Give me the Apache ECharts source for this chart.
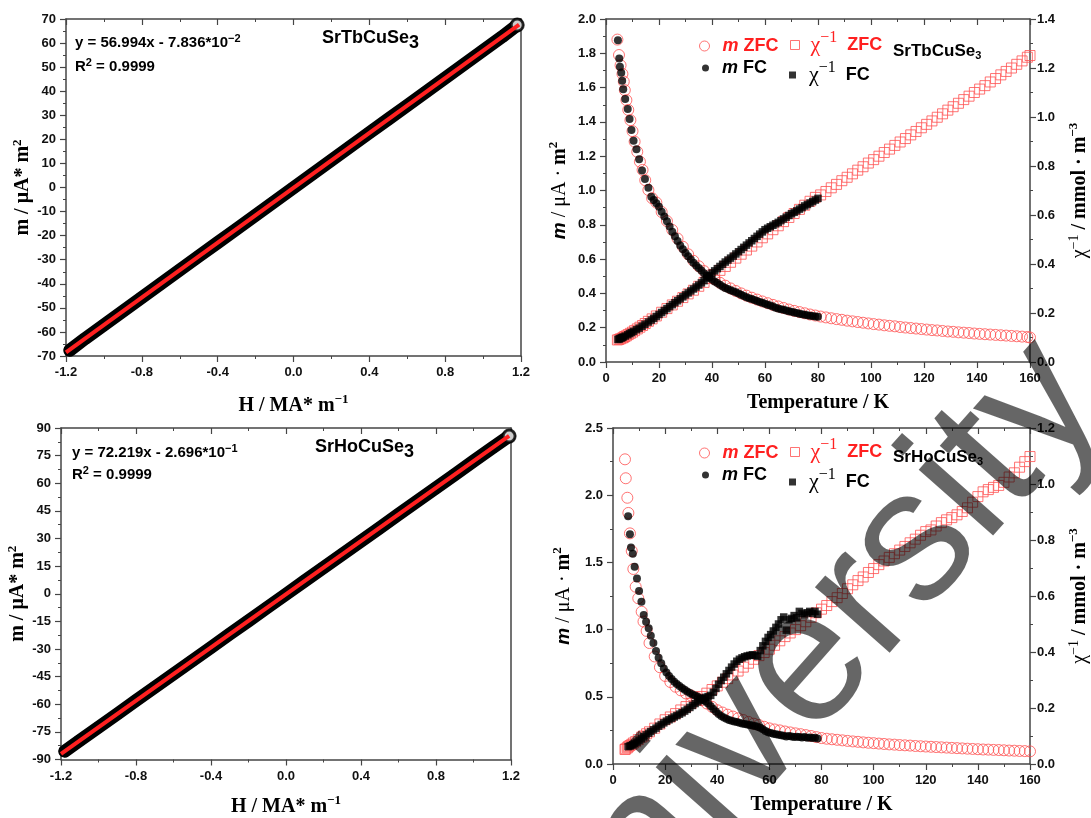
<!DOCTYPE html>
<html>
<head>
<meta charset="utf-8">
<script src="https://cdn.jsdelivr.net/npm/echarts@6/dist/echarts.min.js"></script>
<style>
  html, body { margin: 0; padding: 0; background: #fff; }
  #chart { width: 1091px; height: 818px; }
</style>
</head>
<body>
<div id="chart"></div>
<script>
// ---- M(H) loops (top-left SrTbCuSe3, bottom-left SrHoCuSe3) ----
const tbH = [-1.18, -1.1, -1.0, -0.9, -0.8, -0.7, -0.6, -0.5, -0.4, -0.3, -0.2, -0.1, 0.0, 0.1, 0.2, 0.3, 0.4, 0.5, 0.6, 0.7, 0.8, 0.9, 1.0, 1.1, 1.18];
const tbM = [-67.6, -62.8, -57.1, -51.4, -45.7, -40.0, -34.3, -28.6, -22.9, -17.2, -11.5, -5.8, -0.1, 5.6, 11.3, 17.0, 22.7, 28.4, 34.1, 39.8, 45.5, 51.2, 56.9, 62.6, 67.5];
const tbFitH = [-1.2, 1.19];
const tbFitM = [-68.5, 67.7];

const hoH = [-1.18, -1.1, -1.0, -0.9, -0.8, -0.7, -0.6, -0.5, -0.4, -0.3, -0.2, -0.1, 0.0, 0.1, 0.2, 0.3, 0.4, 0.5, 0.6, 0.7, 0.8, 0.9, 1.0, 1.1, 1.19];
const hoM = [-85.5, -79.7, -72.5, -65.3, -58.0, -50.8, -43.6, -36.4, -29.2, -21.9, -14.7, -7.5, -0.3, 7.0, 14.2, 21.4, 28.6, 35.8, 43.1, 50.3, 57.5, 64.7, 72.0, 79.2, 85.6];
const hoFitH = [-1.2, 1.19];
const hoFitM = [-86.9, 85.7];

// ---- m(T) and 1/chi(T), SrTbCuSe3 ----
const tbZfcT = [4.3, 4.9, 5.5, 6.2, 6.7, 7.1, 7.7, 8.4, 9.2, 10.0, 10.8, 11.8, 12.8, 13.8, 14.8, 16.0, 17.4,
  19, 21, 23, 25, 27, 29, 31, 33, 35, 37, 39,
  41, 43, 45, 47, 49, 51, 53, 55, 57, 59, 61, 63, 65, 67, 69, 71, 73, 75, 77, 79,
  81, 83, 85, 87, 89, 91, 93, 95, 97, 99, 101, 103, 105, 107, 109, 111, 113, 115, 117, 119,
  121, 123, 125, 127, 129, 131, 133, 135, 137, 139, 141, 143, 145, 147, 149, 151, 153, 155, 157, 159, 160];
const tbZfcM = [1.88, 1.79, 1.73, 1.68, 1.635, 1.585, 1.527, 1.47, 1.41, 1.346, 1.285, 1.226, 1.168, 1.12, 1.06, 1.003, 0.955,
  0.93, 0.875, 0.822, 0.77, 0.72, 0.672, 0.628, 0.59, 0.558, 0.53, 0.505,
  0.482, 0.462, 0.445, 0.429, 0.414, 0.4, 0.387, 0.375, 0.364, 0.353, 0.343, 0.333, 0.324, 0.315, 0.306, 0.298, 0.291, 0.284, 0.277, 0.271,
  0.265, 0.26, 0.255, 0.25, 0.246, 0.241, 0.237, 0.233, 0.229, 0.225, 0.221, 0.218, 0.214, 0.211, 0.208, 0.204, 0.201, 0.198, 0.195, 0.192,
  0.189, 0.186, 0.184, 0.181, 0.178, 0.176, 0.173, 0.171, 0.169, 0.166, 0.164, 0.162, 0.16, 0.158, 0.156, 0.154, 0.152, 0.15, 0.148, 0.146, 0.143];
const tbZfcInv = [0.09, 0.092, 0.095, 0.098, 0.101, 0.104, 0.107, 0.112, 0.117, 0.122, 0.128, 0.135, 0.142, 0.149, 0.157, 0.166, 0.176,
  0.188, 0.203, 0.218, 0.233, 0.248, 0.263, 0.278, 0.293, 0.309, 0.325, 0.341,
  0.357, 0.374, 0.39, 0.407, 0.424, 0.44, 0.457, 0.473, 0.49, 0.507, 0.523, 0.54, 0.556, 0.573, 0.59, 0.606, 0.623, 0.64, 0.656, 0.672,
  0.682, 0.696, 0.711, 0.725, 0.74, 0.754, 0.768, 0.783, 0.797, 0.812, 0.826, 0.84, 0.855, 0.869, 0.884, 0.898, 0.912, 0.927, 0.941, 0.956,
  0.97, 0.984, 0.999, 1.013, 1.028, 1.042, 1.056, 1.071, 1.085, 1.1, 1.114, 1.128, 1.143, 1.157, 1.172, 1.186, 1.2, 1.215, 1.229, 1.244, 1.251];

const tbFcT = [4.5, 5.0, 5.25, 5.75, 6.1, 6.5, 7.25, 8.2, 8.9, 9.6, 10.4, 11.5, 12.5, 13.6, 14.7, 16.0, 17.1,
  18, 19, 20, 21, 22, 23, 24, 25, 26, 27, 28, 29, 30, 31, 32, 33, 34, 35, 36, 37, 38, 39, 40, 41, 42, 43, 44, 45, 46, 47,
  48, 49, 50, 51, 52, 53, 54, 55, 56, 57, 58, 59, 60, 61, 62, 63, 64, 65, 66, 67, 68, 69, 70, 71, 72, 73, 74, 75, 76, 77, 78, 79, 80];
const tbFcM = [1.876, 1.769, 1.722, 1.687, 1.64, 1.59, 1.534, 1.475, 1.417, 1.353, 1.29, 1.24, 1.182, 1.116, 1.067, 1.016, 0.964,
  0.945, 0.925, 0.905, 0.876, 0.848, 0.82, 0.79, 0.76, 0.733, 0.706, 0.68, 0.658, 0.636, 0.616, 0.597, 0.579, 0.563, 0.548, 0.533, 0.518,
  0.504, 0.492, 0.481, 0.47, 0.46, 0.45, 0.44, 0.432, 0.425, 0.418, 0.412, 0.406, 0.399, 0.392, 0.385, 0.378, 0.372, 0.367, 0.361, 0.356,
  0.35, 0.345, 0.34, 0.334, 0.329, 0.323, 0.317, 0.312, 0.308, 0.304, 0.3, 0.296, 0.293, 0.289, 0.286, 0.282, 0.279, 0.275, 0.273, 0.27,
  0.268, 0.266, 0.264];
const tbFcInv = [0.092, 0.094, 0.096, 0.098, 0.1, 0.102, 0.106, 0.111, 0.116, 0.12, 0.125, 0.132, 0.138, 0.146, 0.154, 0.163, 0.171,
  0.178, 0.186, 0.194, 0.202, 0.21, 0.218, 0.226, 0.234, 0.242, 0.25, 0.258, 0.266, 0.274, 0.282, 0.29, 0.298, 0.306, 0.314, 0.323, 0.332,
  0.343, 0.353, 0.363, 0.372, 0.381, 0.39, 0.399, 0.408, 0.416, 0.424, 0.432, 0.441, 0.45, 0.459, 0.468, 0.477, 0.486, 0.495, 0.504, 0.513,
  0.522, 0.531, 0.54, 0.546, 0.552, 0.558, 0.564, 0.57, 0.577, 0.584, 0.591, 0.598, 0.605, 0.611, 0.617, 0.624, 0.63, 0.637, 0.643, 0.649,
  0.655, 0.661, 0.668];

// ---- m(T) and 1/chi(T), SrHoCuSe3 ----
const hoZfcT = [4.6, 4.9, 5.5, 5.9, 6.5, 7.2, 7.8, 8.7, 9.7, 11.0, 11.7, 12.9,
  14, 16, 18, 20, 22, 24, 26, 28, 30, 32, 34, 36, 38, 40, 42, 44, 46, 48, 50, 52,
  54, 56, 58, 60, 62, 64, 66, 68, 70, 72, 74, 76, 78, 80, 82, 84, 86, 88, 90, 92,
  94, 96, 98, 100, 102, 104, 106, 108, 110, 112, 114, 116, 118, 120, 122, 124, 126, 128, 130, 132,
  134, 136, 138, 140, 142, 144, 146, 148, 150, 152, 154, 156, 158, 160];
const hoZfcM = [2.267, 2.126, 1.981, 1.868, 1.716, 1.585, 1.451, 1.319, 1.233, 1.133, 1.06, 0.99,
  0.9, 0.8, 0.72, 0.655, 0.61, 0.575, 0.548, 0.525, 0.51, 0.495, 0.475, 0.45, 0.425, 0.4, 0.383, 0.367, 0.353, 0.34, 0.327, 0.313,
  0.3, 0.29, 0.277, 0.265, 0.257, 0.25, 0.242, 0.235, 0.228, 0.222, 0.215, 0.208, 0.2, 0.193, 0.188, 0.184, 0.18, 0.176, 0.172, 0.168,
  0.165, 0.161, 0.158, 0.155, 0.152, 0.149, 0.146, 0.144, 0.141, 0.139, 0.137, 0.134, 0.132, 0.13, 0.128, 0.126, 0.124, 0.122, 0.12, 0.118,
  0.116, 0.114, 0.112, 0.11, 0.108, 0.107, 0.105, 0.104, 0.102, 0.1, 0.099, 0.097, 0.096, 0.094];
const hoZfcInv = [0.052, 0.054, 0.058, 0.062, 0.066, 0.07, 0.075, 0.08, 0.087, 0.096, 0.1, 0.108,
  0.115, 0.128, 0.143, 0.158, 0.168, 0.18, 0.193, 0.205, 0.217, 0.229, 0.241, 0.253, 0.266, 0.279, 0.292, 0.305, 0.318, 0.332, 0.346, 0.36,
  0.374, 0.387, 0.398, 0.41, 0.424, 0.44, 0.455, 0.468, 0.48, 0.494, 0.508, 0.524, 0.54, 0.553, 0.566, 0.58, 0.594, 0.609, 0.626, 0.64,
  0.655, 0.668, 0.684, 0.698, 0.712, 0.725, 0.738, 0.751, 0.764, 0.777, 0.79, 0.803, 0.817, 0.83, 0.836, 0.85, 0.862, 0.872, 0.88, 0.89,
  0.902, 0.915, 0.935, 0.955, 0.972, 0.98, 0.988, 0.995, 1.006, 1.025, 1.04, 1.06, 1.08, 1.098];

const hoFcT = [5.8, 6.5, 6.9, 7.6, 8.3, 9.2, 10.0, 10.9, 11.8, 12.7, 13.7, 14.5,
  15.5, 16.5, 17.5, 18.5, 19.5, 20.5, 21.5, 22.5, 23.5, 24.5, 25.5, 26.5, 27.5, 28.5, 29.5, 30.5, 31.5, 32.5, 33.5, 34.5,
  35.5, 36.5, 37.5, 38.5, 39.5, 40.5, 41.5, 42.5, 43.5, 44.5, 45.5, 46.5, 47.5, 48.5, 49.5, 50.5, 51.5, 52.5, 53.5, 54.5,
  55.5, 56.5, 57.5, 58.5, 59.5, 60.5, 61.5, 62.5, 63.5, 64.5, 65.5, 66.5, 67.5, 68.5, 69.5, 70.5, 71.5, 72.5, 73.5, 74.5,
  75.5, 76.5, 77.5, 78.5];
const hoFcM = [1.843, 1.71, 1.61, 1.565, 1.468, 1.381, 1.287, 1.208, 1.109, 1.059, 1.01, 0.955,
  0.9, 0.84, 0.79, 0.75, 0.71, 0.68, 0.655, 0.632, 0.612, 0.595, 0.58, 0.566, 0.552, 0.54, 0.528, 0.518, 0.51, 0.5, 0.49, 0.478,
  0.465, 0.45, 0.43, 0.41, 0.39, 0.372, 0.358, 0.346, 0.336, 0.328, 0.322, 0.317, 0.312, 0.307, 0.302, 0.298, 0.294, 0.29, 0.287, 0.283,
  0.278, 0.27, 0.258, 0.245, 0.236, 0.23, 0.225, 0.221, 0.217, 0.213, 0.21, 0.205, 0.208, 0.204, 0.2, 0.203, 0.2, 0.198, 0.2, 0.196,
  0.197, 0.194, 0.195, 0.19];
const hoFcInv = [0.062, 0.064, 0.066, 0.069, 0.073, 0.078, 0.084, 0.09, 0.097, 0.104, 0.11, 0.116,
  0.122, 0.128, 0.135, 0.141, 0.147, 0.153, 0.158, 0.163, 0.168, 0.173, 0.178, 0.183, 0.189, 0.195, 0.202, 0.209, 0.216, 0.222, 0.228, 0.234,
  0.238, 0.241, 0.245, 0.256, 0.27, 0.285, 0.298, 0.31, 0.322, 0.334, 0.346, 0.357, 0.367, 0.374, 0.379, 0.383, 0.386, 0.388, 0.39, 0.388,
  0.385, 0.405, 0.422, 0.438, 0.452, 0.462, 0.475, 0.488, 0.5, 0.515, 0.525, 0.478, 0.515, 0.52, 0.53, 0.522, 0.545, 0.538, 0.532, 0.54,
  0.545, 0.538, 0.545, 0.535];

const SANS = '"Liberation Sans", Arial, sans-serif';
const SERIF = '"Liberation Serif", "Times New Roman", serif';
const AX = '#454545';
const RED = '#ff2020';
const ZFC_RED = '#ff5050';

const nameRich = {
  b: { fontFamily: SERIF, fontWeight: 'bold', fontSize: 20, color: '#000' },
  r: { fontFamily: SERIF, fontWeight: 'normal', fontSize: 20, color: '#000' },
  mi: { fontFamily: SANS, fontStyle: 'italic', fontWeight: 'bold', fontSize: 19, color: '#000' },
  sup: { fontFamily: SERIF, fontWeight: 'bold', fontSize: 13, padding: [0, 0, 12, 0], color: '#000' },
  supr: { fontFamily: SERIF, fontWeight: 'normal', fontSize: 14, padding: [0, 0, 12, 0], color: '#000' }
};
const labelStyle = { color: '#111', fontFamily: SANS, fontWeight: 'bold', fontSize: 13 };

function xBottom(g, min, max, step, name, gap, fmt) {
  return {
    type: 'value', gridIndex: g, position: 'bottom', min, max, interval: step,
    axisLine: { show: true, onZero: false, lineStyle: { color: AX, width: 1.5 } },
    axisTick: { show: true, length: 6, lineStyle: { color: AX, width: 1.2 } },
    minorTick: { show: true, splitNumber: 2, length: 3, lineStyle: { color: AX, width: 1 } },
    splitLine: { show: false },
    axisLabel: Object.assign({ margin: 10, formatter: fmt, showMinLabel: true, showMaxLabel: true }, labelStyle),
    name, nameLocation: 'middle', nameGap: gap, nameTextStyle: { rich: nameRich }
  };
}
function xTop(g, min, max, step) {
  return {
    type: 'value', gridIndex: g, position: 'top', min, max, interval: step,
    axisLine: { show: true, onZero: false, lineStyle: { color: AX, width: 1.5 } },
    axisTick: { show: true, inside: true, length: 6, lineStyle: { color: AX, width: 1.2 } },
    minorTick: { show: true, splitNumber: 2, length: 3, lineStyle: { color: AX, width: 1 } },
    splitLine: { show: false }, axisLabel: { show: false }
  };
}
function yAxis(g, pos, min, max, step, name, gap, fmt, margin) {
  const ax = {
    type: 'value', gridIndex: g, position: pos, min, max, interval: step,
    axisLine: { show: true, onZero: false, lineStyle: { color: AX, width: 1.5 } },
    axisTick: { show: !!name, length: 6, lineStyle: { color: AX, width: 1.2 } },
    minorTick: { show: !!name, splitNumber: 2, length: 3, lineStyle: { color: AX, width: 1 } },
    splitLine: { show: false },
    axisLabel: name ? Object.assign({ margin: margin, formatter: fmt, showMinLabel: true, showMaxLabel: true }, labelStyle) : { show: false }
  };
  if (name) {
    ax.name = name; ax.nameLocation = 'middle'; ax.nameGap = gap;
    ax.nameTextStyle = { rich: nameRich };
  }
  return ax;
}
const f1 = v => v.toFixed(1);
const f0 = v => String(Math.round(v));

const zip = (a, b) => a.map((v, i) => [v, b[i]]);

function scatter(name, xi, yi, T, V, symbol, size, itemStyle, z) {
  return { type: 'scatter', name, xAxisIndex: xi, yAxisIndex: yi, data: zip(T, V),
    symbol, symbolSize: size, itemStyle, z, silent: true, clip: false };
}
function loopSeries(xi, yi, H, M, fitH, fitM) {
  const pts = zip(H, M);
  const last = pts.length - 1;
  const data = pts.map((p, i) => i === last ? { value: p, itemStyle: { color: '#fff', borderColor: '#000', borderWidth: 3 } } : p);
  return [
    { type: 'line', xAxisIndex: xi, yAxisIndex: yi, data: pts, showSymbol: false, clip: false, silent: true, z: 2,
      lineStyle: { color: '#000', width: 13, cap: 'round', join: 'round' } },
    { type: 'scatter', xAxisIndex: xi, yAxisIndex: yi, data, symbol: 'circle', symbolSize: 12, clip: false, silent: true, z: 3,
      itemStyle: { color: '#000' } },
    { type: 'line', xAxisIndex: xi, yAxisIndex: yi, data: zip(fitH, fitM), showSymbol: false, clip: false, silent: true, z: 4,
      lineStyle: { color: RED, width: 4 } }
  ];
}
function mtSeries(xi, yL, yR, zT, zM, zI, fT, fM, fI) {
  const open = { color: 'rgba(0,0,0,0)', borderColor: ZFC_RED, borderWidth: 1 };
  return [
    scatter('invZFC', xi, yR, zT, zI, 'rect', 10, open, 2),
    scatter('mZFC', xi, yL, zT, zM, 'circle', 11, open, 2),
    scatter('invFC', xi, yR, fT, fI, 'rect', 7.5, { color: '#000' }, 3),
    scatter('mFC', xi, yL, fT, fM, 'circle', 8, { color: '#000' }, 3)
  ];
}

// legends: one component per entry so the irregular layout of the original can be kept
function legRich(color) {
  return {
    mi: { fontFamily: SANS, fontStyle: 'italic', fontWeight: 'bold', fontSize: 18, color },
    b: { fontFamily: SANS, fontWeight: 'bold', fontSize: 18, color },
    chi: { fontFamily: SERIF, fontSize: 22, color },
    sup: { fontFamily: SERIF, fontSize: 16, padding: [0, 0, 14, 0], color }
  };
}
function leg(name, left, top, size, icon, itemStyle, text, color, pad) {
  return {
    left, top, padding: 0, itemWidth: size, itemHeight: size, selectedMode: false,
    data: [{ name, icon, itemStyle }], formatter: () => text,
    textStyle: { rich: legRich(color), padding: [0, 0, 0, pad] }
  };
}
function legendSet(dy) {
  const open = { color: 'rgba(0,0,0,0)', borderColor: ZFC_RED, borderWidth: 1 };
  return [
    leg('mZFC', 699, 37 + dy, 10, 'circle', open, '{mi|m}{b| ZFC}', RED, 8),
    leg('invZFC', 790, 30 + dy, 9, 'rect', open, '{chi|χ}{sup|−1}{b|  ZFC}', RED, 6),
    leg('mFC', 702, 59 + dy, 7, 'circle', { color: '#000' }, '{mi|m}{b| FC}', '#000', 8),
    leg('invFC', 789, 60 + dy, 7, 'rect', { color: '#000' }, '{chi|χ}{sup|−1}{b|  FC}', '#000', 8)
  ];
}

function richText(x, y, text, rich) {
  return { type: 'text', x, y, z: 50, silent: true,
    style: { text, rich, verticalAlign: 'middle', align: 'left' } };
}
const eqRich = {
  t: { fontFamily: SANS, fontWeight: 'bold', fontSize: 15, color: '#000' },
  s: { fontFamily: SANS, fontWeight: 'bold', fontSize: 11, padding: [0, 0, 9, 0], color: '#000' }
};
const bigRich = {
  a: { fontFamily: SANS, fontWeight: 'bold', fontSize: 18, color: '#000' },
  s: { fontFamily: SANS, fontWeight: 'bold', fontSize: 18, padding: [10, 0, 0, 0], color: '#000' }
};
const smallRich = {
  a: { fontFamily: SANS, fontWeight: 'bold', fontSize: 17, color: '#000' },
  s: { fontFamily: SANS, fontWeight: 'bold', fontSize: 11, padding: [10, 0, 0, 0], color: '#000' }
};

const chart = echarts.init(document.getElementById('chart'), null, { renderer: 'canvas' });
chart.setOption({
  animation: false,
  backgroundColor: '#fff',
  grid: [
    { left: 66, right: 570, top: 19, bottom: 462 },
    { left: 606, right: 58, top: 19, bottom: 456 },
    { left: 61, right: 580, top: 428, bottom: 57 },
    { left: 613, right: 61, top: 428, bottom: 54 }
  ],
  xAxis: [
    xBottom(0, -1.2, 1.2, 0.4, '{b|H / MA* m}{sup|−1}', 37, f1),
    xTop(0, -1.2, 1.2, 0.4),
    xBottom(1, 0, 160, 20, '{b|Temperature / K}', 31, f0),
    xTop(1, 0, 160, 20),
    xBottom(2, -1.2, 1.2, 0.4, '{b|H / MA* m}{sup|−1}', 35, f1),
    xTop(2, -1.2, 1.2, 0.4),
    xBottom(3, 0, 160, 20, '{b|Temperature / K}', 31, f0),
    xTop(3, 0, 160, 20)
  ],
  yAxis: [
    yAxis(0, 'left', -70, 70, 10, '{b|m / μA* m}{sup|2}', 27, f0, 10),
    yAxis(0, 'right', -70, 70, 10, null),
    yAxis(1, 'left', 0, 2.0, 0.2, '{mi|m}{r| / μA · }{b|m}{sup|2}', 34, f1, 10),
    yAxis(1, 'right', 0, 1.4, 0.2, '{r|χ}{supr|−1}{b| / mmol · m}{sup|−3}', 37, f1, 7),
    yAxis(2, 'left', -90, 90, 15, '{b|m / μA* m}{sup|2}', 26, f0, 10),
    yAxis(2, 'right', -90, 90, 15, null),
    yAxis(3, 'left', 0, 2.5, 0.5, '{mi|m}{r| / μA · }{b|m}{sup|2}', 37, f1, 10),
    yAxis(3, 'right', 0, 1.2, 0.2, '{r|χ}{supr|−1}{b| / mmol · m}{sup|−3}', 37, f1, 7)
  ],
  legend: legendSet(0).concat(legendSet(407)),
  series: [].concat(
    loopSeries(0, 0, tbH, tbM, tbFitH, tbFitM),
    loopSeries(4, 4, hoH, hoM, hoFitH, hoFitM),
    mtSeries(2, 2, 3, tbZfcT, tbZfcM, tbZfcInv, tbFcT, tbFcM, tbFcInv),
    mtSeries(6, 6, 7, hoZfcT, hoZfcM, hoZfcInv, hoFcT, hoFcM, hoFcInv)
  ),
  graphic: [
    richText(75, 43, '{t|y = 56.994x - 7.836*10}{s|−2}', eqRich),
    richText(75, 67, '{t|R}{s|2}{t| = 0.9999}', eqRich),
    richText(322, 38, '{a|SrTbCuSe}{s|3}', bigRich),
    richText(72, 453, '{t|y = 72.219x - 2.696*10}{s|−1}', eqRich),
    richText(72, 475, '{t|R}{s|2}{t| = 0.9999}', eqRich),
    richText(315, 447, '{a|SrHoCuSe}{s|3}', bigRich),
    richText(893, 51, '{a|SrTbCuSe}{s|3}', smallRich),
    richText(893, 457, '{a|SrHoCuSe}{s|3}', smallRich),
    // diagonal watermark laid over the lower right panel
    { type: 'text', x: 797, y: 679, rotation: 48.5 * Math.PI / 180, z: 100, silent: true,
      style: { text: 'University', fontFamily: SANS, fontWeight: 'normal', fontSize: 188,
        fill: 'rgba(0,0,0,0.6)', align: 'center', verticalAlign: 'middle' } }
  ]
});
</script>
</body>
</html>
